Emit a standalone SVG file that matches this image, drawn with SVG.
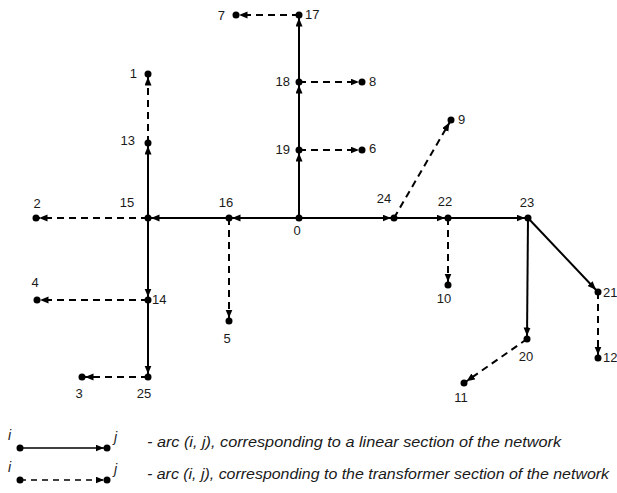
<svg xmlns="http://www.w3.org/2000/svg" width="617" height="493" viewBox="0 0 617 493">
<defs>
<marker id="ah" markerUnits="userSpaceOnUse" markerWidth="14" markerHeight="10" refX="11.5" refY="3.5" orient="auto">
<path d="M0,0 L8.5,3.5 L0,7 z" fill="#000"/>
</marker>
</defs>
<style>
.s{stroke:#000;stroke-width:2;fill:none;marker-end:url(#ah)}
.d{stroke:#000;stroke-width:2;fill:none;stroke-dasharray:7,5;marker-end:url(#ah)}
.n{fill:#000}
.t{font-family:"Liberation Sans",Arial,sans-serif;font-size:13px;fill:#1a1a1a}
.m{text-anchor:middle}
.e{text-anchor:end}
.lg{font-family:"Liberation Sans",Arial,sans-serif;font-size:14px;font-style:italic;fill:#1a1a1a}
</style>
<rect width="617" height="493" fill="#fff"/>
<g id="connectors">
<line class="s" x1="299" y1="218" x2="299" y2="150"/>
<line class="s" x1="299" y1="150" x2="299" y2="82"/>
<line class="s" x1="299" y1="82" x2="299" y2="15"/>
<line class="d" x1="299" y1="15" x2="236" y2="15"/>
<line class="d" x1="299" y1="82" x2="362" y2="82"/>
<line class="d" x1="299" y1="150" x2="362" y2="150"/>
<line class="s" x1="299" y1="218" x2="229" y2="218"/>
<line class="s" x1="229" y1="218" x2="148" y2="218"/>
<line class="s" x1="148" y1="218" x2="148" y2="143"/>
<line class="d" x1="148" y1="143" x2="148" y2="74"/>
<line class="d" x1="148" y1="218" x2="36" y2="218"/>
<line class="d" x1="229" y1="218" x2="229" y2="321"/>
<line class="s" x1="148" y1="218" x2="148" y2="300"/>
<line class="s" x1="148" y1="300" x2="148" y2="377"/>
<line class="d" x1="148" y1="300" x2="37" y2="300"/>
<line class="d" x1="148" y1="377" x2="82" y2="377"/>
<line class="s" x1="299" y1="218" x2="394" y2="218"/>
<line class="d" x1="394" y1="218" x2="451" y2="120"/>
<line class="s" x1="394" y1="218" x2="448" y2="218"/>
<line class="s" x1="448" y1="218" x2="528" y2="218"/>
<line class="d" x1="448" y1="218" x2="448" y2="285"/>
<line class="s" x1="528" y1="218" x2="527" y2="339"/>
<line class="s" x1="528" y1="218" x2="598" y2="292"/>
<line class="d" x1="598" y1="292" x2="598" y2="358"/>
<line class="d" x1="527" y1="339" x2="464" y2="383"/>
</g>
<g id="n0"><circle class="n" cx="299" cy="218" r="3.5"/><text class="t m" x="297" y="235">0</text></g>
<g id="n19"><circle class="n" cx="299" cy="150" r="3.5"/><text class="t e" x="290" y="154">19</text></g>
<g id="n18"><circle class="n" cx="299" cy="82" r="3.5"/><text class="t e" x="290" y="86">18</text></g>
<g id="n17"><circle class="n" cx="299" cy="15" r="3.5"/><text class="t" x="305" y="19">17</text></g>
<g id="n7"><circle class="n" cx="236" cy="15" r="3.5"/><text class="t e" x="225" y="20">7</text></g>
<g id="n8"><circle class="n" cx="362" cy="82" r="3.5"/><text class="t" x="369" y="86">8</text></g>
<g id="n6"><circle class="n" cx="362" cy="150" r="3.5"/><text class="t" x="369" y="153">6</text></g>
<g id="n16"><circle class="n" cx="229" cy="218" r="3.5"/><text class="t m" x="226" y="207">16</text></g>
<g id="n15"><circle class="n" cx="148" cy="218" r="3.5"/><text class="t m" x="127" y="207">15</text></g>
<g id="n13"><circle class="n" cx="148" cy="143" r="3.5"/><text class="t e" x="135" y="145">13</text></g>
<g id="n1"><circle class="n" cx="148" cy="74" r="3.5"/><text class="t e" x="137" y="78">1</text></g>
<g id="n2"><circle class="n" cx="36" cy="218" r="3.5"/><text class="t m" x="37" y="208">2</text></g>
<g id="n14"><circle class="n" cx="148" cy="300" r="3.5"/><text class="t" x="152" y="304">14</text></g>
<g id="n4"><circle class="n" cx="37" cy="300" r="3.5"/><text class="t m" x="35" y="287">4</text></g>
<g id="n25"><circle class="n" cx="148" cy="377" r="3.5"/><text class="t m" x="144" y="398">25</text></g>
<g id="n3"><circle class="n" cx="82" cy="377" r="3.5"/><text class="t m" x="79" y="398">3</text></g>
<g id="n5"><circle class="n" cx="229" cy="321" r="3.5"/><text class="t m" x="227" y="343">5</text></g>
<g id="n24"><circle class="n" cx="394" cy="218" r="3.5"/><text class="t m" x="384" y="203">24</text></g>
<g id="n9"><circle class="n" cx="451" cy="120" r="3.5"/><text class="t" x="458" y="124">9</text></g>
<g id="n22"><circle class="n" cx="448" cy="218" r="3.5"/><text class="t m" x="445" y="206">22</text></g>
<g id="n10"><circle class="n" cx="448" cy="285" r="3.5"/><text class="t m" x="444" y="303">10</text></g>
<g id="n23"><circle class="n" cx="528" cy="218" r="3.5"/><text class="t m" x="527" y="207">23</text></g>
<g id="n20"><circle class="n" cx="527" cy="339" r="3.5"/><text class="t m" x="526" y="361">20</text></g>
<g id="n21"><circle class="n" cx="598" cy="292" r="3.5"/><text class="t" x="603" y="297">21</text></g>
<g id="n12"><circle class="n" cx="598" cy="358" r="3.5"/><text class="t" x="603" y="362">12</text></g>
<g id="n11"><circle class="n" cx="464" cy="383" r="3.5"/><text class="t m" x="461" y="402">11</text></g>
<g id="legend">
<text class="lg" x="8" y="440">i</text>
<line class="s" x1="20" y1="448" x2="107" y2="448" style="stroke-width:1.6"/>
<circle class="n" cx="20" cy="448" r="3.5"/><circle class="n" cx="107" cy="448" r="3.5"/>
<text class="lg" x="114" y="442">j</text>
<text class="lg" x="147" y="447" textLength="414" lengthAdjust="spacingAndGlyphs">- arc (i, j), corresponding to a linear section of the network</text>
<text class="lg" x="8" y="472">i</text>
<line class="d" x1="20" y1="480" x2="107" y2="480" style="stroke-width:1.6;stroke-dasharray:6,5"/>
<circle class="n" cx="20" cy="480" r="3.5"/><circle class="n" cx="107" cy="480" r="3.5"/>
<text class="lg" x="114" y="474">j</text>
<text class="lg" x="147" y="479" textLength="462" lengthAdjust="spacingAndGlyphs">- arc (i, j), corresponding to the transformer section of the network</text>
</g>
</svg>
